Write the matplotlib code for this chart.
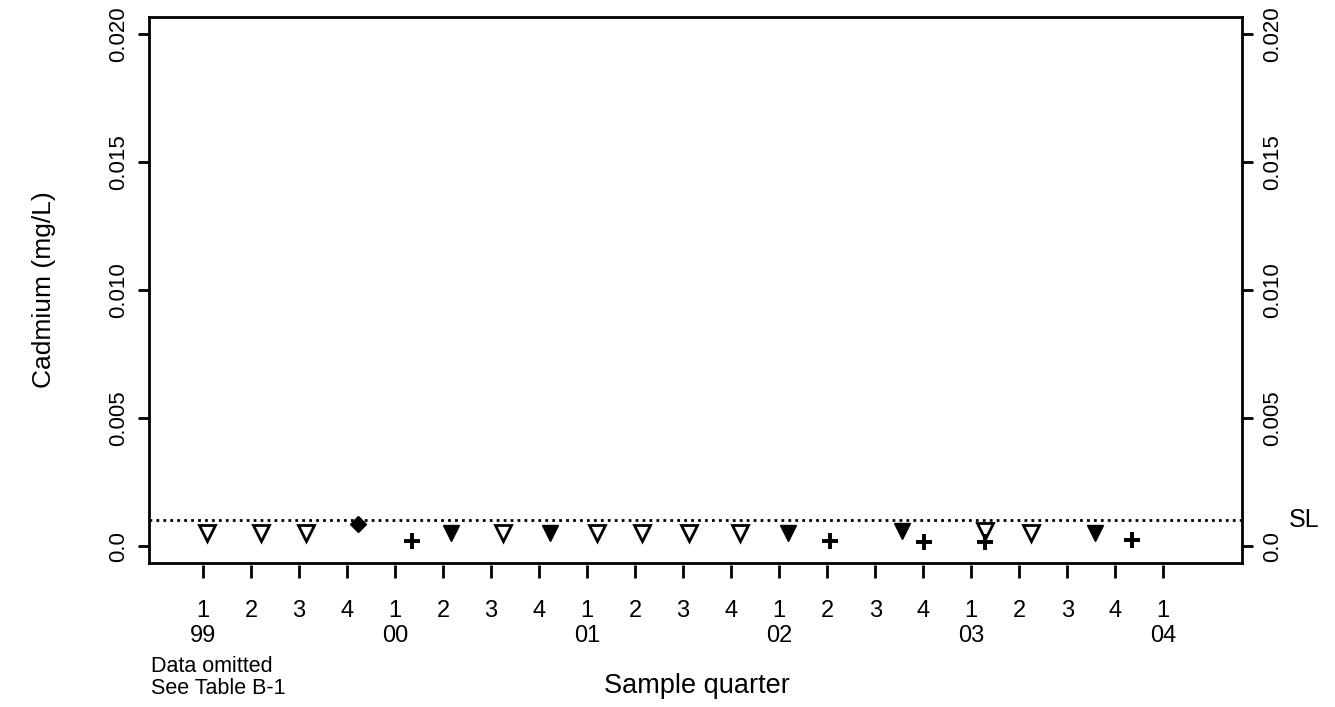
import matplotlib
matplotlib.use("Agg")
import matplotlib.pyplot as plt

plt.rcParams['font.family'] = ['Liberation Sans', 'DejaVu Sans']

# quarter index: 0 = Q1 1999 ... 20 = Q1 2004
quarter_labels = ['1', '2', '3', '4'] * 5 + ['1']
year_labels = {0: '99', 4: '00', 8: '01', 12: '02', 16: '03', 20: '04'}

# open triangles (non-detects)
open_x = [0.08, 1.21, 2.15, 6.25, 8.21, 9.15, 10.13, 11.19, 16.29, 17.25]
open_y = [0.0005, 0.0005, 0.0005, 0.0005, 0.0005, 0.0005, 0.0005, 0.0005, 0.0006, 0.0005]
# filled triangles
fill_x = [5.17, 7.23, 12.19, 14.56, 18.58]
fill_y = [0.0005, 0.0005, 0.0005, 0.0006, 0.0005]
# filled diamond
dia_x = [3.23]
dia_y = [0.00085]
# plus signs
plus_x = [4.35, 13.06, 15.02, 16.29, 19.35]
plus_y = [0.0002, 0.0002, 0.00015, 0.00015, 0.00022]

SL = 0.001

fig = plt.figure(figsize=(13.35, 7.07), dpi=100)
ax = fig.add_axes([0.1116, 0.2037, 0.8191, 0.7723])

ax.plot(open_x, open_y, 'v', ms=11, mfc='white', mec='black', mew=2)
ax.plot(fill_x, fill_y, 'v', ms=11, mfc='black', mec='black')
ax.plot(dia_x, dia_y, 'D', ms=8, mfc='black', mec='black')
ax.plot(plus_x, plus_y, '+', ms=12, mec='black', mew=2.8)
ax.axhline(SL, color='black', lw=2, ls=(0, (1, 1.5)))

ax.set_xlim(-1.125, 21.65)
ax.set_ylim(-0.00066, 0.02066)

for s in ax.spines.values():
    s.set_linewidth(2)

yt = [0.0, 0.005, 0.010, 0.015, 0.020]
ytl = ['0.0', '0.005', '0.010', '0.015', '0.020']
ax.set_yticks(yt)
ax.set_yticklabels(ytl, fontsize=16)
ax.tick_params(axis='y', left=True, right=True, labelleft=True,
               labelright=True, width=2, length=8, pad=6)
for lab in ax.get_yticklabels(which='both'):
    lab.set_rotation(90)
    lab.set_va('center')

ax.set_xticks([])
sec = ax.secondary_xaxis(-0.004)
sec.spines['bottom'].set_visible(False)
ticks = list(range(len(quarter_labels)))
sec.set_xticks(ticks)
sec.set_xticklabels([q + '\n' + year_labels.get(i, '') for i, q in enumerate(quarter_labels)],
                    fontsize=17, linespacing=1.2)
sec.tick_params(axis='x', width=2, length=9, pad=16)

ax.set_ylabel('Cadmium (mg/L)', fontsize=19, labelpad=38)
fig.text(0.522, 0.03, 'Sample quarter', ha='center', va='center', fontsize=19.5)
fig.text(0.113, 0.042, 'Data omitted\nSee Table B-1', ha='left', va='center',
         fontsize=15.5, linespacing=1.1)
ax.text(1.042, SL, 'SL', transform=ax.get_yaxis_transform(), ha='left',
        va='center', fontsize=18)

fig.savefig('out.png', dpi=100)
